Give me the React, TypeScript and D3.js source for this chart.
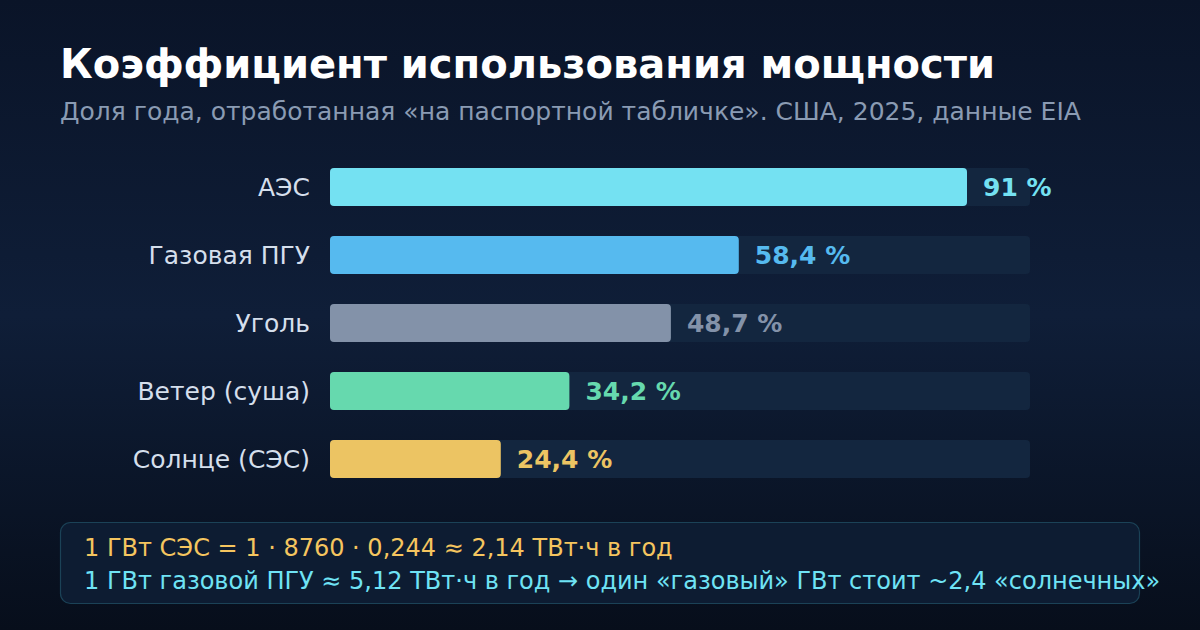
import React from 'react';
import * as d3 from 'd3';

const categories = ['АЭС', 'Газовая ПГУ', 'Уголь', 'Ветер (суша)', 'Солнце (СЭС)'];
const values = [91, 58.4, 48.7, 34.2, 24.4];
const valueLabels = ['91 %', '58,4 %', '48,7 %', '34,2 %', '24,4 %'];
const colors = ['#74e1f2', '#56baef', '#8392a9', '#66d9ae', '#ecc463'];
const noteLines = [
  '1 ГВт СЭС = 1 · 8760 · 0,244 ≈ 2,14 ТВт·ч в год',
  '1 ГВт газовой ПГУ ≈ 5,12 ТВт·ч в год → один «газовый» ГВт стоит ~2,4 «солнечных»',
];
const noteColors = ['#f5c55f', '#6fe3f5'];

const W = 1200;
const H = 630;
const font = '"DejaVu Sans", sans-serif';

const App: React.FC = () => {
  const x = d3.scaleLinear().domain([0, 100]).range([330, 1030]);
  // step 68, bar 38
  const y = d3.scaleBand().domain(categories).range([168, 478]).paddingInner(30 / 68).paddingOuter(0);

  return (
    <svg width={W} height={H} style={{ display: 'block', position: 'fixed', top: 0, left: 0 }}>
      <defs>
        <linearGradient id="bg" x1="0" y1="0" x2="0" y2="1">
          <stop offset="0%" stopColor="#0a1428" />
          <stop offset="50%" stopColor="#0f1e38" />
          <stop offset="100%" stopColor="#070e1b" />
        </linearGradient>
      </defs>
      <rect width={W} height={H} fill="url(#bg)" />

      <text x={60} y={78} fill="#ffffff" fontFamily={font} fontWeight="bold" fontSize={40}>
        Коэффициент использования мощности
      </text>
      <text x={60} y={120} fill="#8a9bb3" fontFamily={font} fontSize={25}>
        Доля года, отработанная «на паспортной табличке». США, 2025, данные EIA
      </text>

      {categories.map((c, i) => {
        const yy = y(c) as number;
        const bh = y.bandwidth();
        return (
          <g key={c}>
            <rect x={x(0)} y={yy} width={x(100) - x(0)} height={bh} rx={4} fill="#13263f" />
            <rect x={x(0)} y={yy} width={x(values[i]) - x(0)} height={bh} rx={4} fill={colors[i]} />
            <text x={310} y={yy + bh / 2} dy="0.35em" textAnchor="end" fill="#d5dfec"
              fontFamily={font} fontSize={25}>
              {c}
            </text>
            <text x={x(values[i]) + 16} y={yy + bh / 2} dy="0.35em" fill={colors[i]}
              fontFamily={font} fontWeight="bold" fontSize={25}>
              {valueLabels[i]}
            </text>
          </g>
        );
      })}

      <rect x={60.5} y={522.5} width={1079} height={81} rx={10} fill="#0d1c32" stroke="#1b4257" strokeWidth={1.2} />
      {noteLines.map((t, i) => (
        <text key={i} x={84} y={556 + i * 33} fill={noteColors[i]} fontFamily={font} fontSize={24}>
          {t}
        </text>
      ))}
    </svg>
  );
};

export default App;
